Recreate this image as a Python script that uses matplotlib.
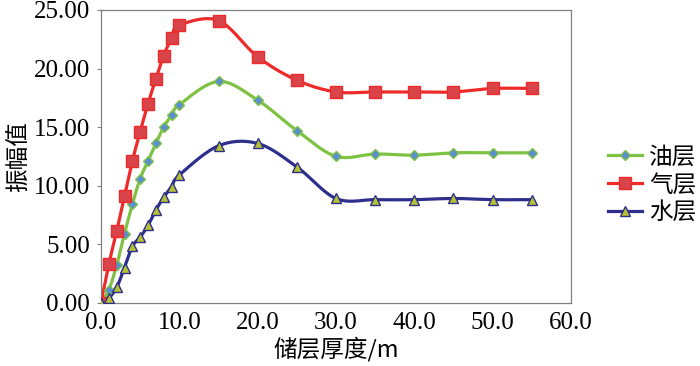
import matplotlib
matplotlib.use("Agg")
import matplotlib.pyplot as plt
import numpy as np

# reservoir thickness (m)
thickness = [0, 1, 2, 3, 4, 5, 6, 7, 8, 9, 10, 15, 20, 25, 30, 35, 40, 45, 50, 55]
oil = [0.0, 1.1, 3.2, 5.9, 8.4, 10.6, 12.1, 13.6, 15.0, 16.0, 16.9, 18.9, 17.3,
       14.7, 12.5, 12.7, 12.6, 12.8, 12.8, 12.8]
gas = [0.0, 3.3, 6.1, 9.1, 12.1, 14.6, 17.0, 19.1, 21.1, 22.6, 23.7, 24.1, 21.0,
       19.0, 18.0, 18.0, 18.0, 18.0, 18.3, 18.3]
water = [0.0, 0.4, 1.3, 3.0, 4.8, 5.6, 6.6, 7.9, 9.0, 9.9, 10.9, 13.4, 13.6,
         11.6, 8.9, 8.8, 8.8, 8.9, 8.8, 8.8]

series = [
    ("油层", oil, "#7dc242", "D", "#5b8fd0", "#7dc242", 5.5),
    ("气层", gas, "#ee2a2a", "s", "#d9434a", "#ee2a2a", 9),
    ("水层", water, "#2e2f8c", "^", "#b4c232", "#2e2f8c", 7),
]

XTICKS = np.arange(0, 61, 10)
YTICKS = np.arange(0, 26, 5)


def smooth(x, y, n=20):
    """Catmull-Rom curve through the points (like a spreadsheet 'smoothed line')."""
    p = np.column_stack([x, y]).astype(float)
    p = np.vstack([p[0], p, p[-1]])
    t = np.linspace(0, 1, n)[:, None]
    out = []
    for i in range(1, len(p) - 2):
        p0, p1, p2, p3 = p[i - 1], p[i], p[i + 1], p[i + 2]
        seg = 0.5 * ((2 * p1) + (-p0 + p2) * t + (2 * p0 - 5 * p1 + 4 * p2 - p3) * t**2
                     + (-p0 + 3 * p1 - 3 * p2 + p3) * t**3)
        out.append(seg if i == 1 else seg[1:])
    s = np.vstack(out)
    return s[:, 0], s[:, 1]


SERIF = "Liberation Serif"
CJK = ["Noto Sans CJK SC"]

fig = plt.figure(figsize=(7.0, 3.66), dpi=100)
ax = fig.add_axes([0.1443, 0.173, 0.6714, 0.7997])

for label, vals, lc, mk, mfc, mec, ms in series:
    sx, sy = smooth(thickness, vals)
    ax.plot(sx, sy, color=lc, lw=2.3, zorder=2)
    ax.plot(thickness, vals, ls="none", marker=mk, ms=ms, mfc=mfc, mec=mec,
            mew=1.0, zorder=3)
    ax.plot([], [], color=lc, lw=2.3, marker=mk, ms=ms, mfc=mfc, mec=mec,
            mew=1.0, label=label)

ax.set_xlim(0, 60)
ax.set_ylim(0, 25)
ax.set_xticks(XTICKS)
ax.set_xticklabels([f"{v:.1f}" for v in XTICKS], family=SERIF, fontsize=18)
ax.set_yticks(YTICKS)
ax.set_yticklabels([f"{v:.2f}" for v in YTICKS], family=SERIF, fontsize=18)
ax.tick_params(axis="x", length=0, pad=7)
ax.tick_params(axis="y", length=3, width=0.8, color="#808080", pad=5)
for sp in ax.spines.values():
    sp.set_color("#808080")
    sp.set_linewidth(0.9)

ax.set_xlabel("储层厚度/m", family=CJK, fontsize=17, labelpad=2)
ax.set_ylabel("振幅值", family=CJK, fontsize=17, labelpad=2)

fig.legend(loc="center left", bbox_to_anchor=(0.868, 0.495), frameon=False,
           prop={"family": CJK, "size": 17}, handlelength=1.45,
           handletextpad=0.3, labelspacing=0.2, borderpad=0, borderaxespad=0)

fig.savefig("out.png", dpi=100)
